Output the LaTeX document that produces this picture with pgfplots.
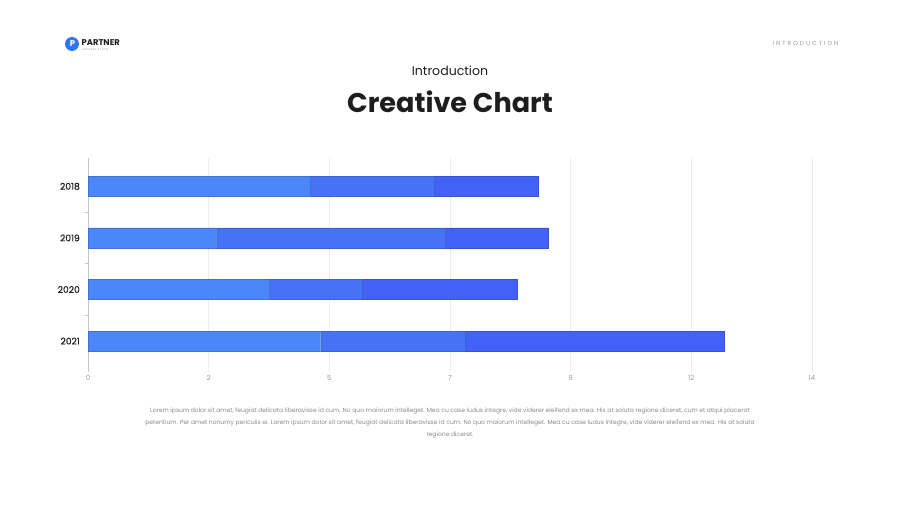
\documentclass[border=0pt]{standalone}
\usepackage{pgfplots}
\pgfplotsset{compat=1.18}
\usepackage{fontspec}
\setmainfont{Poppins}
\definecolor{cA}{HTML}{4B87F6}
\definecolor{cB}{HTML}{4673F5}
\definecolor{cC}{HTML}{4262F5}
\definecolor{txt}{HTML}{1E1E1E}
\definecolor{tick}{HTML}{9A9A9A}
\definecolor{lorem}{HTML}{8A8A8A}
\definecolor{gridc}{HTML}{EDEDED}
\definecolor{logo}{HTML}{2F74F4}
\begin{document}
\begin{tikzpicture}[x=1bp,y=1bp]
\path[use as bounding box, fill=white] (0,0) rectangle (900,506);
% logo
\fill[logo] (72,462) circle (7);
\node[text=white, font=\fontsize{8.5}{8}\selectfont\bfseries, inner sep=0] at (72.5,462) {P};
\node[anchor=west, inner sep=0, text=txt, font=\fontsize{8.4}{9}\selectfont\bfseries] at (81.5,463) {PARTNER};
\node[anchor=west, inner sep=0, text=lorem, font=\fontsize{2.5}{3}\selectfont\addfontfeature{LetterSpace=30}] at (82,456.5) {PRESENTATION};
% top right
\node[anchor=east, inner sep=0, text=tick, font=\fontsize{5.9}{7}\selectfont\addfontfeature{LetterSpace=35}] at (838.5,463) {INTRODUCTION};
% titles
\node[inner sep=0, text=txt, font=\fontsize{12.6}{14}\selectfont] at (450,435) {Introduction};
\node[inner sep=0, text=txt, font=\fontsize{27.2}{30}\selectfont\bfseries] at (450,404) {Creative Chart};
\begin{axis}[
  at={(88bp,134bp)}, anchor=south west,
  scale only axis, width=724bp, height=214bp,
  xmin=0, xmax=14, ymin=-0.55, ymax=3.6, y dir=reverse,
  xbar stacked, bar width=20bp,
  xtick={0,2.3333,4.6667,7,9.3333,11.6667,14},
  xticklabels={0,2,5,7,9,12,14},
  ytick={0,1,2,3}, yticklabels={2018,2019,2020,2021},
  minor ytick={0.5,1.5,2.5},
  axis lines*=left,
  x axis line style={draw=none},
  y axis line style={draw=gray!45, line width=0.8bp},
  xmajorgrids, grid style={gridc, line width=0.9bp},
  major tick length=0pt, minor tick length=3bp, tick align=outside,
  minor tick style={gray!45, line width=0.6bp},
  xticklabel style={text=tick, font=\fontsize{7}{7}\selectfont, inner sep=0pt, yshift=-3bp},
  yticklabel style={text=txt, font=\fontsize{9.2}{9}\selectfont\addfontfeature{FakeBold=0.8}, inner sep=0pt, xshift=-8bp},
  /pgf/number format/assume math mode=true,
  clip=false,
]
\addplot[fill=cA, draw=cA!85!black, line width=0.4bp] coordinates {(4.3,0) (2.5,1) (3.5,2) (4.5,3)};
\addplot[fill=cB, draw=cB!85!black, line width=0.4bp] coordinates {(2.4,0) (4.4,1) (1.8,2) (2.8,3)};
\addplot[fill=cC, draw=cC!85!black, line width=0.4bp] coordinates {(2.0,0) (2.0,1) (3.0,2) (5.0,3)};
\end{axis}
\node[text=lorem, font=\fontsize{6.05}{12}\selectfont, align=center, inner sep=0] at (450,83) {Lorem ipsum dolor sit amet, feugiat delicata liberavisse id cum. No quo maiorum intelleget. Mea cu case ludus integre, vide viderer eleifend ex mea. His at soluta regione diceret, cum et atqui placerat\\petentium. Per amet nonumy periculis ei. Lorem ipsum dolor sit amet, feugiat delicata liberavisse id cum. No quo maiorum intelleget. Mea cu case ludus integre, vide viderer eleifend ex mea. His at soluta\\regione diceret.};
\end{tikzpicture}
\end{document}
